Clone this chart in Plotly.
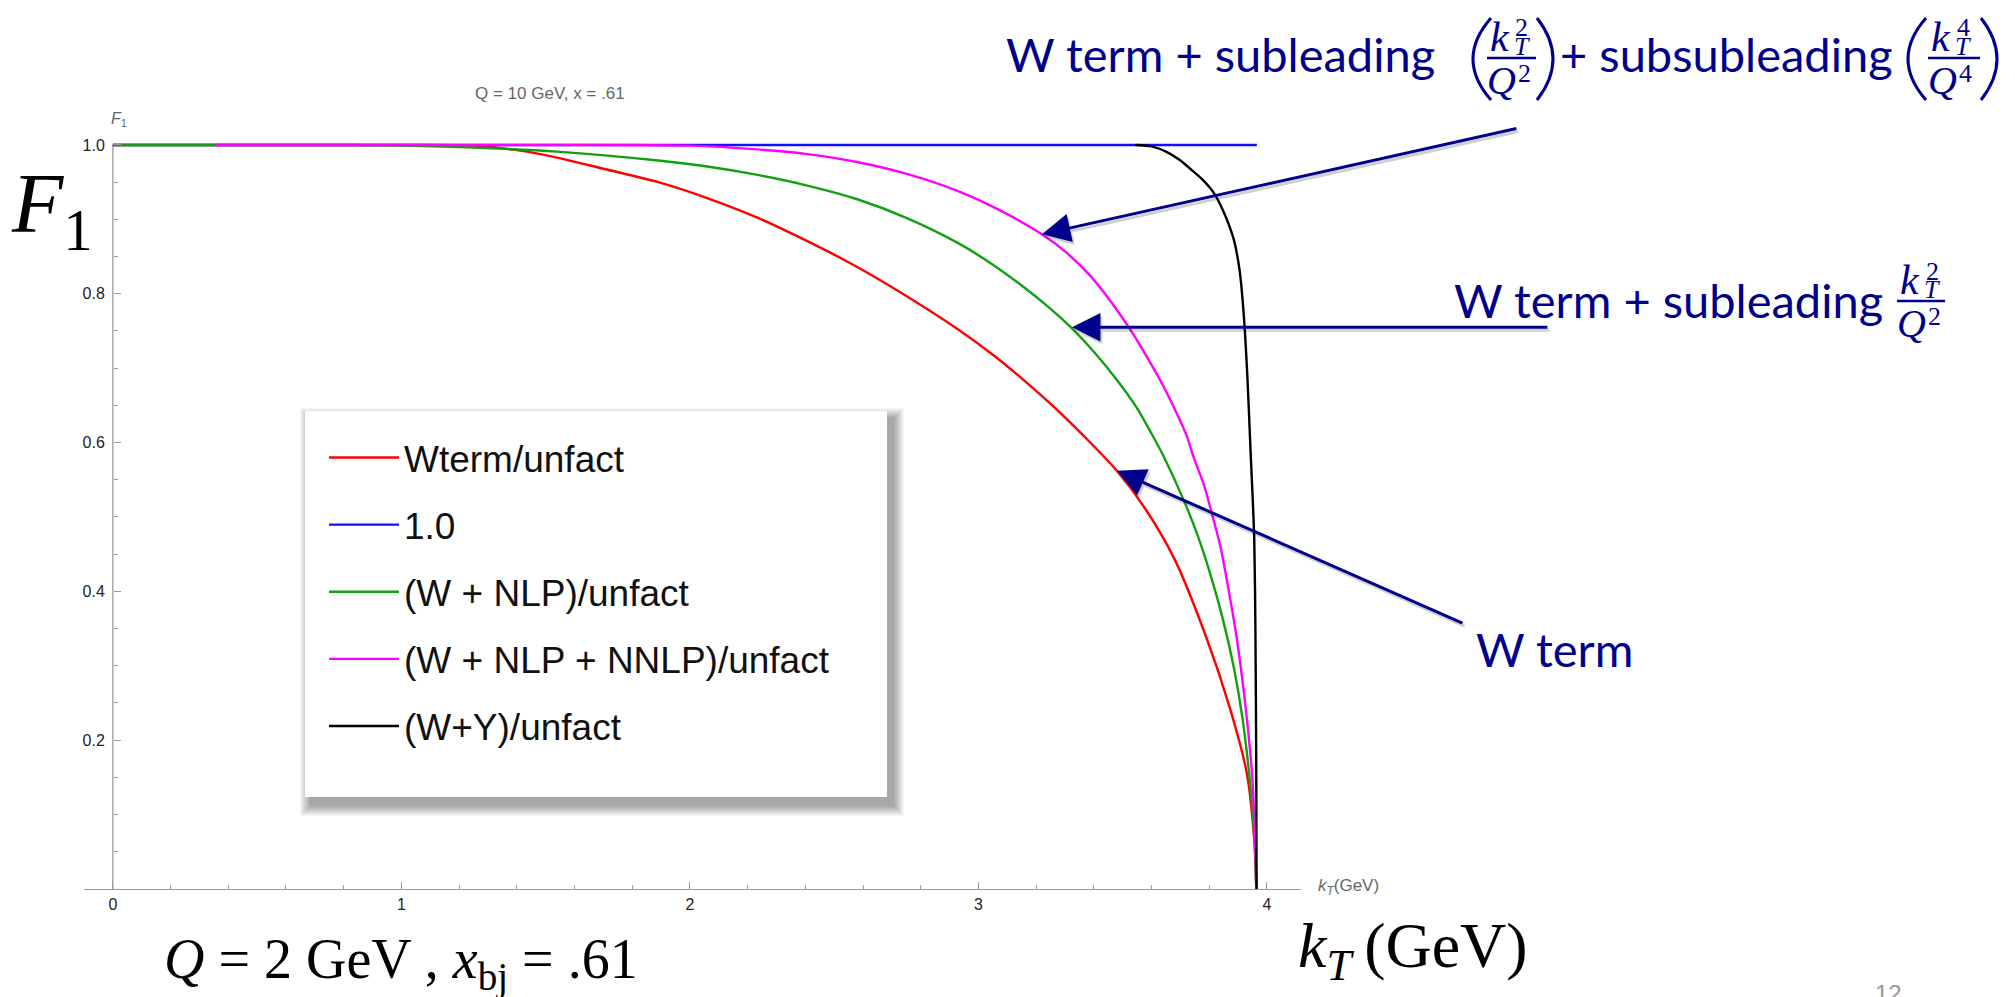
import plotly.graph_objects as go

# ---------------- data ----------------
kt_red = [0.0, 1.0, 1.25, 1.40, 1.54, 1.70, 1.89, 2.05, 2.23, 2.40, 2.58, 2.75, 2.93, 3.05, 3.16,
          3.27, 3.37, 3.48, 3.58, 3.68, 3.79, 3.87, 3.93, 3.956, 3.963]
f_red = [1.0, 1.0, 0.999, 0.993, 0.983, 0.968, 0.950, 0.930, 0.903, 0.872, 0.836, 0.797, 0.752, 0.718, 0.683,
         0.645, 0.607, 0.562, 0.510, 0.443, 0.338, 0.245, 0.156, 0.066, 0.0]

kt_blue = [0.0, 3.965]
f_blue = [1.0, 1.0]

kt_green = [0.0, 0.8, 1.0, 1.2, 1.54, 1.89, 2.06, 2.23, 2.40, 2.58, 2.75, 2.93, 3.05, 3.16, 3.24, 3.32, 3.40,
            3.48, 3.55, 3.60, 3.64, 3.71, 3.76, 3.80, 3.845, 3.885, 3.915, 3.937, 3.950, 3.958, 3.963]
f_green = [1.0, 1.0, 0.999, 0.997, 0.991, 0.979, 0.971, 0.960, 0.946, 0.927, 0.902, 0.868, 0.839, 0.808, 0.783, 0.755, 0.722,
           0.684, 0.646, 0.612, 0.583, 0.524, 0.475, 0.428, 0.366, 0.298, 0.230, 0.160, 0.106, 0.058, 0.0]

kt_mag = [0.356, 1.5, 2.0, 2.232, 2.40, 2.579, 2.752, 2.925, 3.07, 3.22, 3.30, 3.388, 3.46, 3.526, 3.59,
          3.642, 3.69, 3.723, 3.746, 3.78, 3.804, 3.84, 3.867, 3.895, 3.919, 3.935, 3.948, 3.959, 3.963]
f_mag = [1.0, 1.0, 0.999, 0.994, 0.988, 0.977, 0.961, 0.9385, 0.913, 0.880, 0.857, 0.824, 0.789, 0.752, 0.711,
         0.675, 0.637, 0.608, 0.580, 0.545, 0.512, 0.458, 0.402, 0.338, 0.268, 0.212, 0.156, 0.066, 0.0]

kt_black = [3.544, 3.60, 3.65, 3.70, 3.734, 3.775, 3.815, 3.85, 3.885, 3.905, 3.919, 3.932, 3.943,
            3.950, 3.956, 3.960, 3.963, 3.964]
f_black = [1.0, 0.998, 0.991, 0.979, 0.968, 0.954, 0.936, 0.910, 0.873, 0.832, 0.775, 0.69, 0.59,
           0.53, 0.47, 0.35, 0.156, 0.0]

series_names = ["Wterm/unfact", "1.0", "(W + NLP)/unfact", "(W + NLP + NNLP)/unfact", "(W+Y)/unfact"]
series_colors = ["#ff0000", "#1010ff", "#10a010", "#ff00ff", "#000000"]

x_tick_vals = [0, 1, 2, 3, 4]
x_tick_text = ["0", "1", "2", "3", "4"]
y_tick_vals = [0.2, 0.4, 0.6, 0.8, 1.0]
y_tick_text = ["0.2", "0.4", "0.6", "0.8", "1.0"]
x_minor_vals = [i * 0.2 for i in range(0, 21)]
y_minor_vals = [i * 0.05 for i in range(0, 21)]

# ---------------- layout helpers ----------------
W, H = 2015, 997
ML, MR, MT, MB = 84, 714, 136, 108
PW = W - ML - MR
PH = H - MT - MB
NAVY = "#00008c"
GRAY = "#9a9a9a"
XR = [-0.1, 4.118]


def X(px):
    return (px - ML) / PW


def Y(py):
    return (H - MB - py) / PH


fig = go.Figure()
all_x = [kt_red, kt_blue, kt_green, kt_mag, kt_black]
all_y = [f_red, f_blue, f_green, f_mag, f_black]
for i, (xs, ys) in enumerate(zip(all_x, all_y)):
    fig.add_trace(go.Scatter(
        x=xs, y=ys, mode="lines", name=series_names[i],
        line=dict(color=series_colors[i], width=2.4, shape="spline", smoothing=0.8),
        legendgroup="g%d" % i, hoverinfo="skip"))

shapes = []
# y axis line (from 0 to 1 only)
shapes.append(dict(type="line", xref="x", yref="y", x0=0, x1=0, y0=0, y1=1.0,
                   line=dict(color=GRAY, width=1.3), layer="below"))

# legend box with soft shadow
bx0, by0, bx1, by1 = 305, 411, 887, 797
dx, dy, b = 6, 8, 11
for i in range(b):
    shapes.append(dict(type="rect", xref="paper", yref="paper",
                       x0=X(bx0 + dx - b + i), x1=X(bx1 + dx + b - i),
                       y0=Y(by1 + dy + b - i), y1=Y(by0 + dy - b + i),
                       fillcolor="rgba(0,0,0,0.035)", line=dict(width=0), layer="above"))
shapes.append(dict(type="rect", xref="paper", yref="paper",
                   x0=X(bx0), x1=X(bx1), y0=Y(by1), y1=Y(by0),
                   fillcolor="white", line=dict(width=0), layer="above"))

annotations = []


def txt(text, px, py, size, family, color, xanchor="center", yanchor="middle"):
    annotations.append(dict(text=text, x=X(px), y=Y(py), xref="paper", yref="paper",
                            showarrow=False, xanchor=xanchor, yanchor=yanchor,
                            font=dict(size=size, family=family, color=color)))


def paren(x_end, x_ext, y_top, y_bot):
    # a tall thin parenthesis drawn as a quadratic curve in paper coords
    ym = (y_top + y_bot) / 2.0
    xc = 2 * x_ext - x_end
    path = "M %.5f,%.5f Q %.5f,%.5f %.5f,%.5f" % (X(x_end), Y(y_top), X(xc), Y(ym), X(x_end), Y(y_bot))
    shapes.append(dict(type="path", xref="paper", yref="paper", path=path,
                       line=dict(color=NAVY, width=3)))


MATH = "Liberation Serif"
BLUEF = "Lato"


def frac(bl, w, by, power):
    shapes.append(dict(type="line", xref="paper", yref="paper",
                       x0=X(bl), x1=X(bl + w), y0=Y(by), y1=Y(by),
                       line=dict(color=NAVY, width=2.5)))
    txt("<i>k</i>", bl + 13, by - 21, 42, MATH, NAVY)
    txt(power, bl + 35, by - 30, 26, MATH, NAVY)
    txt("<i>T</i>", bl + 35, by - 12, 26, MATH, NAVY)
    txt("<i>Q</i>", bl + 14, by + 22, 40, MATH, NAVY)
    txt(power, bl + 37, by + 15, 26, MATH, NAVY)


# top label
txt("W term + subleading", 1004, 54, 47, BLUEF, NAVY, xanchor="left")
paren(1491, 1473, 18, 100)
frac(1487, 49, 58, "2")
paren(1537, 1553, 18, 100)
txt("+ subsubleading", 1558, 54, 47, BLUEF, NAVY, xanchor="left")
paren(1926, 1908, 18, 100)
frac(1928, 52, 58, "4")
paren(1981, 1997, 18, 100)

# middle label
txt("W term + subleading", 1452, 300, 47, BLUEF, NAVY, xanchor="left")
frac(1897, 48, 301, "2")

# lower label
txt("W term", 1474, 649, 47, BLUEF, NAVY, xanchor="left")

# arrows (shadow first, then navy)
arrows = [(3.22, 0.880, 476, -106), (3.324, 0.755, 477, 0), (3.48, 0.562, 347, 153)]
for col, xs_, ys_ in [("rgba(0,0,0,0.18)", 2, -3), (NAVY, 0, 0)]:
    for (hx, hy, ax, ay) in arrows:
        annotations.append(dict(text="", x=hx, y=hy, xref="x", yref="y", ax=ax, ay=ay,
                                showarrow=True, arrowhead=2, arrowsize=1.9, arrowwidth=3,
                                arrowcolor=col, xshift=xs_, yshift=ys_))

# chart texts
txt("Q = 10 GeV, x = .61", 550, 93, 17, "Liberation Sans", "#666666")
txt("<i>F</i><sub>1</sub>", 119, 119, 16, "Liberation Sans", "#666666")
txt("<i>k</i><sub><i>T</i></sub>(GeV)", 1316, 887, 17, "Liberation Sans", "#666666", xanchor="left")
txt("<i>F</i><sub>1</sub>", 52, 210, 84, MATH, "#000000")
txt("<i>Q</i> = 2 GeV , <i>x</i><sub>bj</sub> = .61", 162, 964, 56, MATH, "#000000", xanchor="left")
txt("<i>k</i><sub><i>T</i></sub>\u2009(GeV)", 1296, 950, 64, MATH, "#000000", xanchor="left")
txt("12", 1888, 978, 24, "Liberation Sans", "#999999", yanchor="top")

tickfont = dict(family="Liberation Sans", size=16, color="#222222")

fig.update_layout(
    width=W, height=H,
    margin=dict(l=ML, r=MR, t=MT, b=MB, autoexpand=False),
    paper_bgcolor="white", plot_bgcolor="white",
    showlegend=True,
    legend=dict(x=X(324), y=Y(427), xanchor="left", yanchor="top",
                bgcolor="rgba(0,0,0,0)", borderwidth=0,
                font=dict(family="Liberation Sans", size=37, color="#111111"),
                tracegroupgap=16, itemwidth=70),
    xaxis=dict(range=XR, showgrid=False, zeroline=False,
               showline=True, linecolor=GRAY, linewidth=1.3,
               ticks="inside", ticklen=7, tickwidth=1, tickcolor=GRAY,
               tickmode="array", tickvals=x_tick_vals, ticktext=x_tick_text,
               tickfont=tickfont, ticklabelstandoff=1,
               minor=dict(tickmode="array", tickvals=x_minor_vals, ticks="inside",
                          ticklen=4, tickcolor=GRAY, showgrid=False)),
    yaxis=dict(range=[0, 1.012], anchor="free", position=(0 - XR[0]) / (XR[1] - XR[0]),
               showgrid=False, zeroline=False, showline=False,
               ticks="inside", ticklen=7, tickwidth=1, tickcolor=GRAY,
               tickmode="array", tickvals=y_tick_vals, ticktext=y_tick_text,
               tickfont=tickfont, ticklabelstandoff=8,
               minor=dict(tickmode="array", tickvals=y_minor_vals, ticks="inside",
                          ticklen=4, tickcolor=GRAY, showgrid=False)),
    shapes=shapes,
    annotations=annotations,
)

fig.write_html("out.html", config={"displayModeBar": False},
               post_script="document.body.style.margin='0px';document.body.style.overflow='hidden';")
